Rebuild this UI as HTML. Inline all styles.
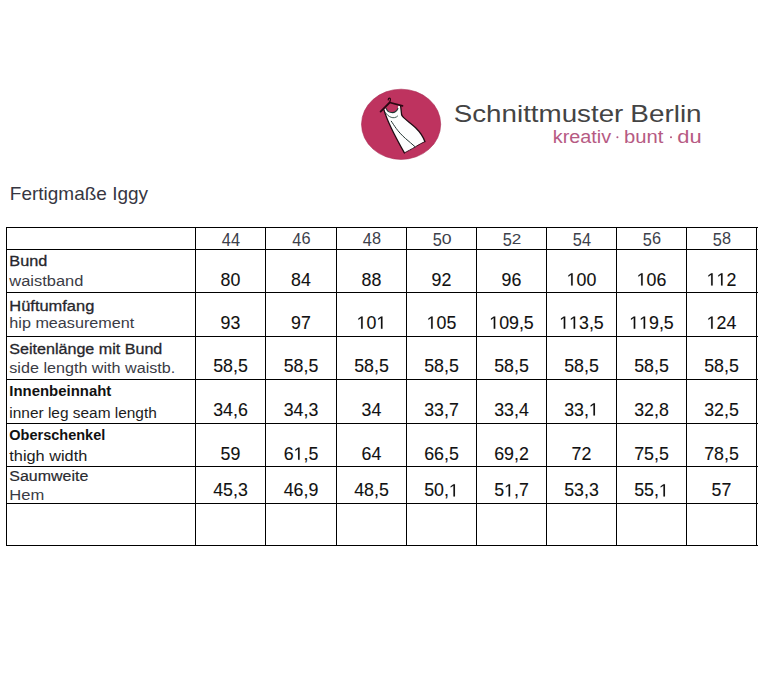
<!DOCTYPE html>
<html><head><meta charset="utf-8"><title>Fertigmaße Iggy</title>
<style>
html,body{margin:0;padding:0;background:#fff;width:772px;height:699px;overflow:hidden;}
svg{display:block;font-family:"Liberation Sans", sans-serif;}
</style></head><body>
<svg width="772" height="699" viewBox="0 0 772 699" font-family='"Liberation Sans", sans-serif'><rect x="6" y="227" width="752.0" height="1.0" fill="#000"/>
<rect x="6" y="249" width="752.0" height="1.0" fill="#000"/>
<rect x="6" y="292" width="752.0" height="1.0" fill="#000"/>
<rect x="6" y="336" width="752.0" height="1.0" fill="#000"/>
<rect x="6" y="379" width="752.0" height="1.0" fill="#000"/>
<rect x="6" y="423" width="752.0" height="1.0" fill="#000"/>
<rect x="6" y="466" width="752.0" height="1.0" fill="#000"/>
<rect x="6" y="503" width="752.0" height="1.0" fill="#000"/>
<rect x="6" y="545" width="752.0" height="1.0" fill="#000"/>
<rect x="6" y="227" width="1.0" height="319.0" fill="#000"/>
<rect x="195" y="227" width="1.0" height="319.0" fill="#000"/>
<rect x="265" y="227" width="1.0" height="319.0" fill="#000"/>
<rect x="336" y="227" width="1.0" height="319.0" fill="#000"/>
<rect x="406" y="227" width="1.0" height="319.0" fill="#000"/>
<rect x="476" y="227" width="1.0" height="319.0" fill="#000"/>
<rect x="546" y="227" width="1.0" height="319.0" fill="#000"/>
<rect x="616" y="227" width="1.0" height="319.0" fill="#000"/>
<rect x="686" y="227" width="1.0" height="319.0" fill="#000"/>
<rect x="756" y="227" width="1.0" height="319.0" fill="#000"/>
<text x="9.84" y="199.8" font-size="17.8" fill="#363642" font-weight="normal" text-anchor="start" textLength="138.19" lengthAdjust="spacingAndGlyphs" >Fertigmaße Iggy</text>
<text x="453.74" y="121.5" font-size="23.2" fill="#444444" font-weight="normal" text-anchor="start" textLength="169.62" lengthAdjust="spacingAndGlyphs" >Schnittmuster</text>
<text x="630.31" y="121.5" font-size="23.2" fill="#444444" font-weight="normal" text-anchor="start" textLength="71.3" lengthAdjust="spacingAndGlyphs" >Berlin</text>
<text x="552.76" y="143.4" font-size="17.5" fill="#b65a83" font-weight="normal" text-anchor="start" textLength="58.4" lengthAdjust="spacingAndGlyphs" >kreativ</text>
<circle cx="617.4" cy="137.3" r="1.05" fill="#b65a83"/>
<text x="624.1" y="143.4" font-size="17.5" fill="#b65a83" font-weight="normal" text-anchor="start" textLength="39.35" lengthAdjust="spacingAndGlyphs" >bunt</text>
<circle cx="671.0" cy="137.3" r="1.05" fill="#b65a83"/>
<text x="677.28" y="143.4" font-size="17.5" fill="#b65a83" font-weight="normal" text-anchor="start" textLength="24.38" lengthAdjust="spacingAndGlyphs" >du</text>
<text transform="translate(226.40,245.9) scale(1.0,1.07)" x="0" y="0" font-size="16.3" fill="#3c404a" text-anchor="middle">4</text>
<text transform="translate(235.60,245.9) scale(1.0,1.07)" x="0" y="0" font-size="16.3" fill="#3c404a" text-anchor="middle">4</text>
<text transform="translate(296.90,245.9) scale(1.0,1.07)" x="0" y="0" font-size="16.3" fill="#3c404a" text-anchor="middle">4</text>
<text transform="translate(306.10,243.9) scale(1.0,1.05)" x="0" y="0" font-size="16.3" fill="#3c404a" text-anchor="middle">6</text>
<text transform="translate(367.40,245.9) scale(1.0,1.07)" x="0" y="0" font-size="16.3" fill="#3c404a" text-anchor="middle">4</text>
<text transform="translate(376.60,243.9) scale(1.0,1.05)" x="0" y="0" font-size="16.3" fill="#3c404a" text-anchor="middle">8</text>
<text transform="translate(437.40,245.9) scale(1.0,1.07)" x="0" y="0" font-size="16.3" fill="#3c404a" text-anchor="middle">5</text>
<text transform="translate(446.60,243.9) scale(1.08,0.89)" x="0" y="0" font-size="16.3" fill="#3c404a" text-anchor="middle">0</text>
<text transform="translate(507.40,245.9) scale(1.0,1.07)" x="0" y="0" font-size="16.3" fill="#3c404a" text-anchor="middle">5</text>
<text transform="translate(516.60,243.9) scale(1.05,0.89)" x="0" y="0" font-size="16.3" fill="#3c404a" text-anchor="middle">2</text>
<text transform="translate(577.40,245.9) scale(1.0,1.07)" x="0" y="0" font-size="16.3" fill="#3c404a" text-anchor="middle">5</text>
<text transform="translate(586.60,245.9) scale(1.0,1.07)" x="0" y="0" font-size="16.3" fill="#3c404a" text-anchor="middle">4</text>
<text transform="translate(647.40,245.9) scale(1.0,1.07)" x="0" y="0" font-size="16.3" fill="#3c404a" text-anchor="middle">5</text>
<text transform="translate(656.60,243.9) scale(1.0,1.05)" x="0" y="0" font-size="16.3" fill="#3c404a" text-anchor="middle">6</text>
<text transform="translate(717.40,245.9) scale(1.0,1.07)" x="0" y="0" font-size="16.3" fill="#3c404a" text-anchor="middle">5</text>
<text transform="translate(726.60,243.9) scale(1.0,1.05)" x="0" y="0" font-size="16.3" fill="#3c404a" text-anchor="middle">8</text>
<text x="230.5" y="285.6" font-size="17.8" fill="#111" font-weight="normal" text-anchor="middle" stroke="#111" stroke-width="0.1">80</text>
<text x="301.0" y="285.6" font-size="17.8" fill="#111" font-weight="normal" text-anchor="middle" stroke="#111" stroke-width="0.1">84</text>
<text x="371.5" y="285.6" font-size="17.8" fill="#111" font-weight="normal" text-anchor="middle" stroke="#111" stroke-width="0.1">88</text>
<text x="441.5" y="285.6" font-size="17.8" fill="#111" font-weight="normal" text-anchor="middle" stroke="#111" stroke-width="0.1">92</text>
<text x="511.5" y="285.6" font-size="17.8" fill="#111" font-weight="normal" text-anchor="middle" stroke="#111" stroke-width="0.1">96</text>
<text x="581.5" y="285.6" font-size="17.8" fill="#111" font-weight="normal" text-anchor="middle" stroke="#111" stroke-width="0.1"> 00</text>
<path transform="translate(566.651,285.6) scale(0.008691,-0.008691)" d="M515 0 L515 1237 L197 1010 L197 1180 L530 1409 L696 1409 L696 0 Z" fill="#111" stroke="#111" stroke-width="11.5"/>
<text x="651.5" y="285.6" font-size="17.8" fill="#111" font-weight="normal" text-anchor="middle" stroke="#111" stroke-width="0.1"> 06</text>
<path transform="translate(636.651,285.6) scale(0.008691,-0.008691)" d="M515 0 L515 1237 L197 1010 L197 1180 L530 1409 L696 1409 L696 0 Z" fill="#111" stroke="#111" stroke-width="11.5"/>
<text x="721.5" y="285.6" font-size="17.8" fill="#111" font-weight="normal" text-anchor="middle" stroke="#111" stroke-width="0.1">  2</text>
<path transform="translate(706.651,285.6) scale(0.008691,-0.008691)" d="M515 0 L515 1237 L197 1010 L197 1180 L530 1409 L696 1409 L696 0 Z" fill="#111" stroke="#111" stroke-width="11.5"/>
<path transform="translate(716.550,285.6) scale(0.008691,-0.008691)" d="M515 0 L515 1237 L197 1010 L197 1180 L530 1409 L696 1409 L696 0 Z" fill="#111" stroke="#111" stroke-width="11.5"/>
<text x="230.5" y="328.8" font-size="17.8" fill="#111" font-weight="normal" text-anchor="middle" stroke="#111" stroke-width="0.1">93</text>
<text x="301.0" y="328.8" font-size="17.8" fill="#111" font-weight="normal" text-anchor="middle" stroke="#111" stroke-width="0.1">97</text>
<text x="371.5" y="328.8" font-size="17.8" fill="#111" font-weight="normal" text-anchor="middle" stroke="#111" stroke-width="0.1"> 0 </text>
<path transform="translate(356.651,328.8) scale(0.008691,-0.008691)" d="M515 0 L515 1237 L197 1010 L197 1180 L530 1409 L696 1409 L696 0 Z" fill="#111" stroke="#111" stroke-width="11.5"/>
<path transform="translate(376.450,328.8) scale(0.008691,-0.008691)" d="M515 0 L515 1237 L197 1010 L197 1180 L530 1409 L696 1409 L696 0 Z" fill="#111" stroke="#111" stroke-width="11.5"/>
<text x="441.5" y="328.8" font-size="17.8" fill="#111" font-weight="normal" text-anchor="middle" stroke="#111" stroke-width="0.1"> 05</text>
<path transform="translate(426.651,328.8) scale(0.008691,-0.008691)" d="M515 0 L515 1237 L197 1010 L197 1180 L530 1409 L696 1409 L696 0 Z" fill="#111" stroke="#111" stroke-width="11.5"/>
<text x="511.5" y="328.8" font-size="17.8" fill="#111" font-weight="normal" text-anchor="middle" stroke="#111" stroke-width="0.1"> 09,5</text>
<path transform="translate(489.228,328.8) scale(0.008691,-0.008691)" d="M515 0 L515 1237 L197 1010 L197 1180 L530 1409 L696 1409 L696 0 Z" fill="#111" stroke="#111" stroke-width="11.5"/>
<text x="581.5" y="328.8" font-size="17.8" fill="#111" font-weight="normal" text-anchor="middle" stroke="#111" stroke-width="0.1">  3,5</text>
<path transform="translate(559.228,328.8) scale(0.008691,-0.008691)" d="M515 0 L515 1237 L197 1010 L197 1180 L530 1409 L696 1409 L696 0 Z" fill="#111" stroke="#111" stroke-width="11.5"/>
<path transform="translate(569.128,328.8) scale(0.008691,-0.008691)" d="M515 0 L515 1237 L197 1010 L197 1180 L530 1409 L696 1409 L696 0 Z" fill="#111" stroke="#111" stroke-width="11.5"/>
<text x="651.5" y="328.8" font-size="17.8" fill="#111" font-weight="normal" text-anchor="middle" stroke="#111" stroke-width="0.1">  9,5</text>
<path transform="translate(629.228,328.8) scale(0.008691,-0.008691)" d="M515 0 L515 1237 L197 1010 L197 1180 L530 1409 L696 1409 L696 0 Z" fill="#111" stroke="#111" stroke-width="11.5"/>
<path transform="translate(639.128,328.8) scale(0.008691,-0.008691)" d="M515 0 L515 1237 L197 1010 L197 1180 L530 1409 L696 1409 L696 0 Z" fill="#111" stroke="#111" stroke-width="11.5"/>
<text x="721.5" y="328.8" font-size="17.8" fill="#111" font-weight="normal" text-anchor="middle" stroke="#111" stroke-width="0.1"> 24</text>
<path transform="translate(706.651,328.8) scale(0.008691,-0.008691)" d="M515 0 L515 1237 L197 1010 L197 1180 L530 1409 L696 1409 L696 0 Z" fill="#111" stroke="#111" stroke-width="11.5"/>
<text x="230.5" y="372.2" font-size="17.8" fill="#111" font-weight="normal" text-anchor="middle" stroke="#111" stroke-width="0.1">58,5</text>
<text x="301.0" y="372.2" font-size="17.8" fill="#111" font-weight="normal" text-anchor="middle" stroke="#111" stroke-width="0.1">58,5</text>
<text x="371.5" y="372.2" font-size="17.8" fill="#111" font-weight="normal" text-anchor="middle" stroke="#111" stroke-width="0.1">58,5</text>
<text x="441.5" y="372.2" font-size="17.8" fill="#111" font-weight="normal" text-anchor="middle" stroke="#111" stroke-width="0.1">58,5</text>
<text x="511.5" y="372.2" font-size="17.8" fill="#111" font-weight="normal" text-anchor="middle" stroke="#111" stroke-width="0.1">58,5</text>
<text x="581.5" y="372.2" font-size="17.8" fill="#111" font-weight="normal" text-anchor="middle" stroke="#111" stroke-width="0.1">58,5</text>
<text x="651.5" y="372.2" font-size="17.8" fill="#111" font-weight="normal" text-anchor="middle" stroke="#111" stroke-width="0.1">58,5</text>
<text x="721.5" y="372.2" font-size="17.8" fill="#111" font-weight="normal" text-anchor="middle" stroke="#111" stroke-width="0.1">58,5</text>
<text x="230.5" y="415.5" font-size="17.8" fill="#111" font-weight="normal" text-anchor="middle" stroke="#111" stroke-width="0.1">34,6</text>
<text x="301.0" y="415.5" font-size="17.8" fill="#111" font-weight="normal" text-anchor="middle" stroke="#111" stroke-width="0.1">34,3</text>
<text x="371.5" y="415.5" font-size="17.8" fill="#111" font-weight="normal" text-anchor="middle" stroke="#111" stroke-width="0.1">34</text>
<text x="441.5" y="415.5" font-size="17.8" fill="#111" font-weight="normal" text-anchor="middle" stroke="#111" stroke-width="0.1">33,7</text>
<text x="511.5" y="415.5" font-size="17.8" fill="#111" font-weight="normal" text-anchor="middle" stroke="#111" stroke-width="0.1">33,4</text>
<text x="581.5" y="415.5" font-size="17.8" fill="#111" font-weight="normal" text-anchor="middle" stroke="#111" stroke-width="0.1">33, </text>
<path transform="translate(588.922,415.5) scale(0.008691,-0.008691)" d="M515 0 L515 1237 L197 1010 L197 1180 L530 1409 L696 1409 L696 0 Z" fill="#111" stroke="#111" stroke-width="11.5"/>
<text x="651.5" y="415.5" font-size="17.8" fill="#111" font-weight="normal" text-anchor="middle" stroke="#111" stroke-width="0.1">32,8</text>
<text x="721.5" y="415.5" font-size="17.8" fill="#111" font-weight="normal" text-anchor="middle" stroke="#111" stroke-width="0.1">32,5</text>
<text x="230.5" y="459.8" font-size="17.8" fill="#111" font-weight="normal" text-anchor="middle" stroke="#111" stroke-width="0.1">59</text>
<text x="301.0" y="459.8" font-size="17.8" fill="#111" font-weight="normal" text-anchor="middle" stroke="#111" stroke-width="0.1">6 ,5</text>
<path transform="translate(293.578,459.8) scale(0.008691,-0.008691)" d="M515 0 L515 1237 L197 1010 L197 1180 L530 1409 L696 1409 L696 0 Z" fill="#111" stroke="#111" stroke-width="11.5"/>
<text x="371.5" y="459.8" font-size="17.8" fill="#111" font-weight="normal" text-anchor="middle" stroke="#111" stroke-width="0.1">64</text>
<text x="441.5" y="459.8" font-size="17.8" fill="#111" font-weight="normal" text-anchor="middle" stroke="#111" stroke-width="0.1">66,5</text>
<text x="511.5" y="459.8" font-size="17.8" fill="#111" font-weight="normal" text-anchor="middle" stroke="#111" stroke-width="0.1">69,2</text>
<text x="581.5" y="459.8" font-size="17.8" fill="#111" font-weight="normal" text-anchor="middle" stroke="#111" stroke-width="0.1">72</text>
<text x="651.5" y="459.8" font-size="17.8" fill="#111" font-weight="normal" text-anchor="middle" stroke="#111" stroke-width="0.1">75,5</text>
<text x="721.5" y="459.8" font-size="17.8" fill="#111" font-weight="normal" text-anchor="middle" stroke="#111" stroke-width="0.1">78,5</text>
<text x="230.5" y="496.4" font-size="17.8" fill="#111" font-weight="normal" text-anchor="middle" stroke="#111" stroke-width="0.1">45,3</text>
<text x="301.0" y="496.4" font-size="17.8" fill="#111" font-weight="normal" text-anchor="middle" stroke="#111" stroke-width="0.1">46,9</text>
<text x="371.5" y="496.4" font-size="17.8" fill="#111" font-weight="normal" text-anchor="middle" stroke="#111" stroke-width="0.1">48,5</text>
<text x="441.5" y="496.4" font-size="17.8" fill="#111" font-weight="normal" text-anchor="middle" stroke="#111" stroke-width="0.1">50, </text>
<path transform="translate(448.922,496.4) scale(0.008691,-0.008691)" d="M515 0 L515 1237 L197 1010 L197 1180 L530 1409 L696 1409 L696 0 Z" fill="#111" stroke="#111" stroke-width="11.5"/>
<text x="511.5" y="496.4" font-size="17.8" fill="#111" font-weight="normal" text-anchor="middle" stroke="#111" stroke-width="0.1">5 ,7</text>
<path transform="translate(504.078,496.4) scale(0.008691,-0.008691)" d="M515 0 L515 1237 L197 1010 L197 1180 L530 1409 L696 1409 L696 0 Z" fill="#111" stroke="#111" stroke-width="11.5"/>
<text x="581.5" y="496.4" font-size="17.8" fill="#111" font-weight="normal" text-anchor="middle" stroke="#111" stroke-width="0.1">53,3</text>
<text x="651.5" y="496.4" font-size="17.8" fill="#111" font-weight="normal" text-anchor="middle" stroke="#111" stroke-width="0.1">55, </text>
<path transform="translate(658.922,496.4) scale(0.008691,-0.008691)" d="M515 0 L515 1237 L197 1010 L197 1180 L530 1409 L696 1409 L696 0 Z" fill="#111" stroke="#111" stroke-width="11.5"/>
<text x="721.5" y="496.4" font-size="17.8" fill="#111" font-weight="normal" text-anchor="middle" stroke="#111" stroke-width="0.1">57</text>
<text x="9.3" y="265.8" font-size="15.1" fill="#26262c" font-weight="normal" text-anchor="start" textLength="38" lengthAdjust="spacingAndGlyphs" stroke="#26262c" stroke-width="0.3">Bund</text>
<text x="9.3" y="285.5" font-size="15.1" fill="#3a3b45" font-weight="normal" text-anchor="start" textLength="74" lengthAdjust="spacingAndGlyphs" >waistband</text>
<text x="9.3" y="311.2" font-size="15.1" fill="#26262c" font-weight="normal" text-anchor="start" textLength="85" lengthAdjust="spacingAndGlyphs" stroke="#26262c" stroke-width="0.3">Hüftumfang</text>
<text x="9.3" y="328.4" font-size="15.1" fill="#3a3b45" font-weight="normal" text-anchor="start" textLength="125" lengthAdjust="spacingAndGlyphs" >hip measurement</text>
<text x="9.3" y="354" font-size="15.1" fill="#26262c" font-weight="normal" text-anchor="start" textLength="153" lengthAdjust="spacingAndGlyphs" stroke="#26262c" stroke-width="0.3">Seitenlänge mit Bund</text>
<text x="9.3" y="373.2" font-size="15.1" fill="#3a3b45" font-weight="normal" text-anchor="start" textLength="166" lengthAdjust="spacingAndGlyphs" >side length with waistb.</text>
<text x="9.3" y="395.7" font-size="14.5" fill="#111" font-weight="bold" text-anchor="start" textLength="102" lengthAdjust="spacingAndGlyphs" >Innenbeinnaht</text>
<text x="9.3" y="418.0" font-size="15.3" fill="#1c1c1c" font-weight="normal" text-anchor="start" textLength="147.5" lengthAdjust="spacingAndGlyphs" >inner leg seam length</text>
<text x="9.3" y="440" font-size="14.5" fill="#111" font-weight="bold" text-anchor="start" textLength="96" lengthAdjust="spacingAndGlyphs" >Oberschenkel</text>
<text x="9.3" y="461.3" font-size="15.3" fill="#1c1c1c" font-weight="normal" text-anchor="start" textLength="78" lengthAdjust="spacingAndGlyphs" >thigh width</text>
<text x="9.3" y="481.3" font-size="15.1" fill="#2a2a30" font-weight="normal" text-anchor="start" textLength="79" lengthAdjust="spacingAndGlyphs" stroke="#2a2a30" stroke-width="0.2">Saumweite</text>
<text x="9.3" y="500.1" font-size="15.1" fill="#3a3b45" font-weight="normal" text-anchor="start" textLength="35" lengthAdjust="spacingAndGlyphs" >Hem</text>

<ellipse cx="401.1" cy="124.3" rx="39.6" ry="35.1" fill="#be335f" stroke="#a82a52" stroke-width="0.6"/>
<path d="M383.9 109.6 C386.5 119 392 131 404.4 152.9 C408 151 411 149.5 415.6 146.7 C419 144.5 422 143 424.9 141.6 C423 136 421 133 415.6 127.7 C411 123.5 406 120 403.4 117.4 C402.6 116.6 401.9 115.8 401.6 114.8 L400.6 105.8 L398.2 105.4 L397.9 108.5 C395 115 387.5 112.8 386.2 108.3 Z" fill="#fdfefe"/>
<path d="M383.9 109.6 C386.5 119 392 131 404.4 152.9" fill="none" stroke="#1e0a12" stroke-width="1.3" stroke-linecap="round"/>
<path d="M404.4 152.9 C408 151 411 149.5 415.6 146.7 C419 144.5 422 143 424.9 141.6" fill="none" stroke="#3a1020" stroke-width="1.0" stroke-linecap="round"/>
<path d="M424.9 141.6 C423 136 421 133 415.6 127.7 C411 123.5 406 120 403.4 117.4 C402.6 116.6 401.9 115.8 401.6 114.8 L400.6 105.8" fill="none" stroke="#1e0a12" stroke-width="1.3" stroke-linecap="round" stroke-linejoin="round"/>
<path d="M388.2 99.9 C388.3 97.6 390.8 97.6 390.4 99.9 L389.7 102.5" fill="none" stroke="#2a0712" stroke-width="1.2" stroke-linecap="round"/>
<path d="M380.6 111.6 L389.7 102.5 L402.5 105.8" fill="none" stroke="#2a0712" stroke-width="1.8" stroke-linecap="round" stroke-linejoin="round"/>
<path d="M386.2 108.3 C387.5 112.8 395 115 397.9 108.5" fill="none" stroke="#1d3430" stroke-width="1.1" stroke-linecap="round"/>
<path d="M385.5 112.6 C388 117 394 119.8 397.6 116.1" fill="none" stroke="#2b4640" stroke-width="0.9" stroke-linecap="round"/>
<path d="M391.3 121.2 C394 125 397 131 405.6 138.6 C409 141.5 412 144 415 146.7" fill="none" stroke="#233533" stroke-width="1.0" stroke-linecap="round"/>
</svg>
</body></html>
